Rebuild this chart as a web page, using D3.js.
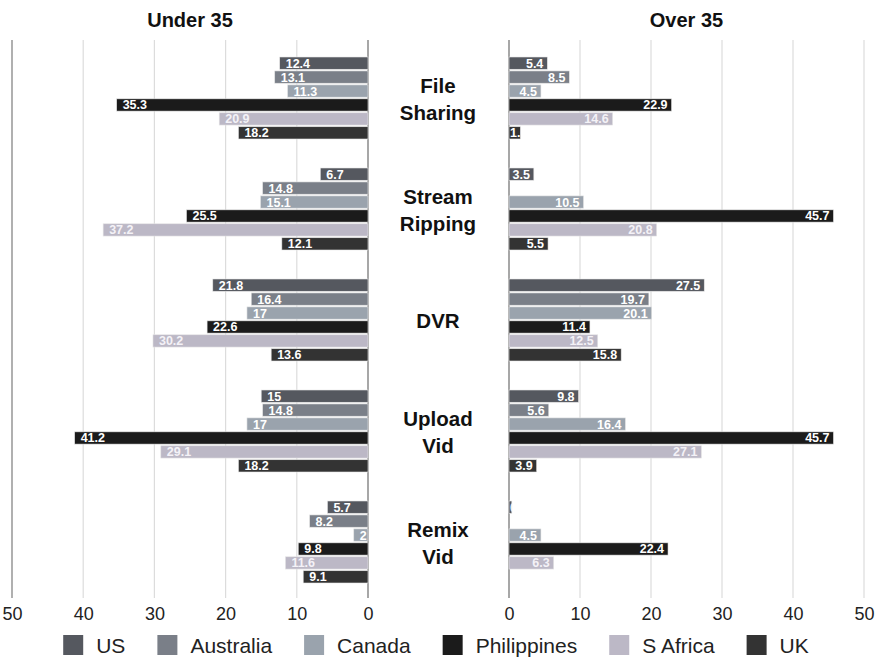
<!DOCTYPE html>
<html>
<head>
<meta charset="utf-8">
<script src="https://cdn.jsdelivr.net/npm/d3@7"></script>
<style>
  html, body { margin: 0; padding: 0; background: #fff; }
  svg { display: block; font-family: "Liberation Sans", Arial, Helvetica, sans-serif; }
</style>
</head>
<body>
<svg id="chart" width="877" height="658"></svg>
<script>
const categories = ["File Sharing", "Stream Ripping", "DVR", "Upload Vid", "Remix Vid"];
const categoryLines = [["File", "Sharing"], ["Stream", "Ripping"], ["DVR"], ["Upload", "Vid"], ["Remix", "Vid"]];
const countries = ["US", "Australia", "Canada", "Philippines", "S Africa", "UK"];
const colors = ["#55585f", "#7a7f88", "#9aa3ad", "#1b1b1b", "#bcb8c6", "#333333"];
const panelTitles = ["Under 35", "Over 35"];
const tickValues = [0, 10, 20, 30, 40, 50];

// rows: categories, columns: countries
const under35 = [
  [12.4, 13.1, 11.3, 35.3, 20.9, 18.2],
  [6.7, 14.8, 15.1, 25.5, 37.2, 12.1],
  [21.8, 16.4, 17, 22.6, 30.2, 13.6],
  [15, 14.8, 17, 41.2, 29.1, 18.2],
  [5.7, 8.2, 2, 9.8, 11.6, 9.1]
];
const over35 = [
  [5.4, 8.5, 4.5, 22.9, 14.6, 1.6],
  [3.5, null, 10.5, 45.7, 20.8, 5.5],
  [27.5, 19.7, 20.1, 11.4, 12.5, 15.8],
  [9.8, 5.6, 16.4, 45.7, 27.1, 3.9],
  [0.4, null, 4.5, 22.4, 6.3, null]
];

const svg = d3.select("#chart");
const plotTop = 40, plotBottom = 598;

const xLeft = d3.scaleLinear().domain([0, 50]).range([368, 12]);
const xRight = d3.scaleLinear().domain([0, 50]).range([509, 864]);
const yGroup = d3.scaleBand().domain(categories).range([42, 597]).padding(0);
const yInner = d3.scaleBand().domain(countries).range([15, 97]).paddingInner(0.12);
const color = d3.scaleOrdinal().domain(countries).range(colors);

const defs = svg.append("defs");

function panel(x, data, side, title) {
  const g = svg.append("g");
  g.selectAll("line.grid").data(tickValues).enter().append("line")
    .attr("x1", d => x(d)).attr("x2", d => x(d))
    .attr("y1", plotTop).attr("y2", plotBottom)
    .attr("stroke", d => d === 0 ? "#8a8a8a" : (d === 50 && side === "left" ? "#b0b0b0" : "#dcdcdc"))
    .attr("stroke-width", d => d === 0 ? 1.5 : (d === 50 && side === "left" ? 2 : 1.2));

  const axis = d3.axisBottom(x).tickValues(tickValues).tickSize(0).tickPadding(0).tickFormat(d3.format("d"));
  const ax = g.append("g").attr("transform", `translate(0, 603)`).call(axis);
  ax.select(".domain").remove();
  ax.selectAll("text")
    .attr("font-family", "'Liberation Sans Narrow', 'Liberation Sans', Arial, sans-serif")
    .attr("font-size", 18).attr("fill", "#222").attr("dy", "0.95em");

  g.append("text")
    .attr("x", (x(0) + x(50)) / 2)
    .attr("y", 27).attr("text-anchor", "middle")
    .attr("font-size", 20).attr("font-weight", "bold").attr("fill", "#111")
    .text(title);

  const flat = [];
  categories.forEach((c, i) => countries.forEach((k, j) => {
    if (data[i][j] != null) flat.push({ cat: c, country: k, value: data[i][j], id: side + "-" + i + "-" + j });
  }));

  flat.forEach(d => {
    d.x0 = Math.min(x(0), x(d.value));
    d.w = Math.abs(x(d.value) - x(0));
    d.y = yGroup(d.cat) + yInner(d.country);
    d.h = yInner.bandwidth();
  });

  defs.selectAll(null).data(flat).enter().append("clipPath")
    .attr("id", d => "clip-" + d.id)
    .append("rect")
    .attr("x", d => d.x0).attr("y", d => d.y).attr("width", d => d.w).attr("height", d => d.h);

  g.selectAll("rect.bar").data(flat).enter().append("rect")
    .attr("class", "bar")
    .attr("x", d => d.x0).attr("y", d => d.y)
    .attr("width", d => d.w).attr("height", d => d.h)
    .attr("fill", d => color(d.country))
    .attr("stroke", "#e6e6e6").attr("stroke-width", 0.6);

  const labels = g.selectAll("text.val").data(flat).enter().append("text")
    .attr("class", "val")
    .attr("clip-path", d => `url(#clip-${d.id})`)
    .attr("y", d => d.y + d.h / 2)
    .attr("dy", "0.36em")
    .attr("font-size", 12.5).attr("font-weight", "bold")
    .attr("fill", d => d.country === "S Africa" ? "#f4f2f7" : "#ffffff")
    .text(d => d.value);

  labels.each(function (d) {
    const t = d3.select(this);
    const tw = this.getComputedTextLength();
    if (side === "left") {
      t.attr("text-anchor", "start").attr("x", x(d.value) + 6);
    } else if (tw + 5 > d.w) {
      t.attr("text-anchor", "start").attr("x", x(0) + 1);
    } else {
      t.attr("text-anchor", "end").attr("x", x(d.value) - 4);
    }
  });
}

panel(xLeft, under35, "left", panelTitles[0]);
panel(xRight, over35, "right", panelTitles[1]);

const cx = 438;
const catG = svg.append("g");
categories.forEach((c, i) => {
  const lines = categoryLines[i];
  const center = yGroup(c) + 57;
  const lh = 27;
  lines.forEach((ln, k) => {
    catG.append("text")
      .attr("x", cx)
      .attr("y", center + (k - (lines.length - 1) / 2) * lh)
      .attr("dy", "0.36em")
      .attr("text-anchor", "middle")
      .attr("font-size", 20.5).attr("font-weight", "bold").attr("fill", "#111")
      .text(ln);
  });
});

const leg = svg.append("g").attr("transform", "translate(0, 645)");
const items = leg.selectAll("g").data(countries).enter().append("g");
items.append("rect").attr("x", 0).attr("y", -10).attr("width", 20).attr("height", 20)
  .attr("fill", d => color(d));
items.append("text").attr("x", 33).attr("y", 0).attr("dy", "0.36em")
  .attr("font-family", "'Liberation Sans Narrow', 'Liberation Sans', Arial, sans-serif")
  .attr("font-size", 21).attr("fill", "#222").text(d => d);
const widths = [];
items.each(function () {
  const w = d3.select(this).select("text").node().getComputedTextLength();
  widths.push(33 + w);
});
const gap = 32;
const total = d3.sum(widths) + gap * (widths.length - 1);
let pos = 436 - total / 2;
items.each(function (d, i) {
  d3.select(this).attr("transform", `translate(${pos},0)`);
  pos += widths[i] + gap;
});
</script>
</body>
</html>
